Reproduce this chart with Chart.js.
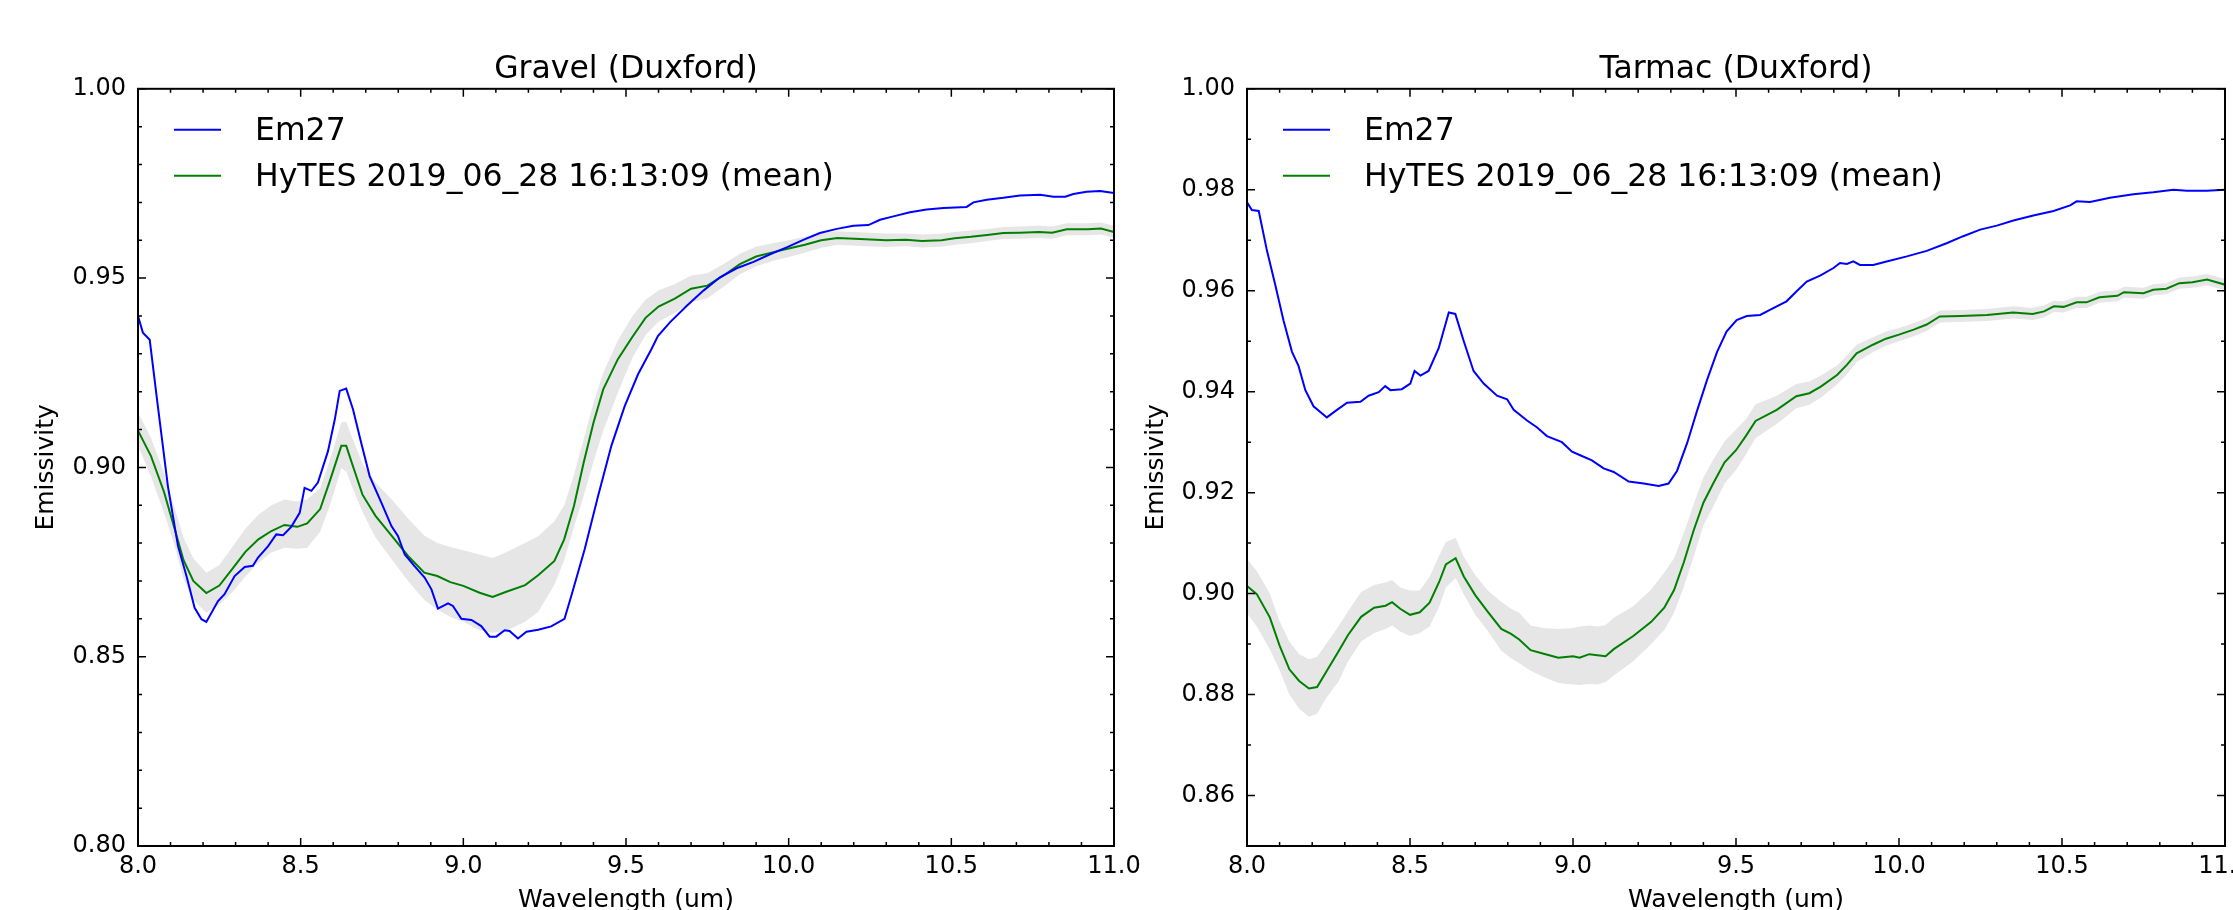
<!DOCTYPE html>
<html lang="en">
<head>
<meta charset="UTF-8">
<title>Emissivity - Gravel and Tarmac (Duxford)</title>
<script src="https://cdn.jsdelivr.net/npm/chart.js"></script>
<style>
  html, body { margin: 0; padding: 0; background: #fff; overflow: hidden; width: 2233px; height: 910px; }
  canvas { position: absolute; top: 0; }
  #gravelChart { left: 0; }
  #tarmacChart { left: 1110px; }
</style>
</head>
<body>
<canvas id="gravelChart" width="1180" height="920"></canvas>
<canvas id="tarmacChart" width="1150" height="920"></canvas>
<script>
const em27Label = 'Em27';
const hytesLabel = 'HyTES 2019_06_28 16:13:09 (mean)';
const xLabel = 'Wavelength (um)';
const yLabel = 'Emissivity';

// ---- Gravel (Duxford) ----
const gravelEm27Wl = [8.000, 8.015, 8.036, 8.061, 8.092, 8.123, 8.149, 8.174, 8.195, 8.210,
  8.246, 8.266, 8.297, 8.328, 8.353, 8.369, 8.400, 8.425, 8.446, 8.471,
  8.497, 8.512, 8.533, 8.553, 8.584, 8.605, 8.620, 8.640, 8.661, 8.686,
  8.712, 8.748, 8.779, 8.799, 8.820, 8.850, 8.881, 8.902, 8.922, 8.953,
  8.968, 8.994, 9.025, 9.055, 9.081, 9.101, 9.127, 9.142, 9.168, 9.194,
  9.230, 9.270, 9.311, 9.332, 9.373, 9.414, 9.455, 9.496, 9.537, 9.578,
  9.598, 9.635, 9.687, 9.738, 9.789, 9.840, 9.892, 9.943, 9.994, 10.045,
  10.096, 10.148, 10.199, 10.245, 10.281, 10.322, 10.373, 10.424, 10.476, 10.547,
  10.568, 10.609, 10.660, 10.711, 10.773, 10.814, 10.850, 10.875, 10.916, 10.957, 11.000];
const gravelEm27 = [0.9400, 0.9356, 0.9337, 0.9162, 0.8950, 0.8792, 0.8713, 0.8629, 0.8599, 0.8592,
  0.8647, 0.8665, 0.8713, 0.8737, 0.8740, 0.8762, 0.8792, 0.8823, 0.8821, 0.8843,
  0.8880, 0.8946, 0.8938, 0.8960, 0.9043, 0.9127, 0.9202, 0.9208, 0.9153, 0.9065,
  0.8977, 0.8907, 0.8845, 0.8819, 0.8770, 0.8739, 0.8709, 0.8678, 0.8627, 0.8641,
  0.8634, 0.8600, 0.8597, 0.8581, 0.8553, 0.8553, 0.8570, 0.8568, 0.8548, 0.8566,
  0.8571, 0.8580, 0.8600, 0.8661, 0.8784, 0.8924, 0.9057, 0.9162, 0.9246, 0.9312,
  0.9347, 0.9383, 0.9427, 0.9467, 0.9502, 0.9526, 0.9543, 0.9563, 0.9581, 0.9601,
  0.9619, 0.9630, 0.9638, 0.9640, 0.9654, 0.9663, 0.9674, 0.9681, 0.9685, 0.9688,
  0.9700, 0.9707, 0.9712, 0.9718, 0.9720, 0.9715, 0.9715, 0.9722, 0.9728, 0.9730, 0.9725];

const gravelHytesWl = [8.00, 8.04, 8.08, 8.11, 8.14, 8.17, 8.21, 8.25, 8.29, 8.33,
  8.37, 8.41, 8.45, 8.49, 8.52, 8.56, 8.59, 8.625, 8.64, 8.66,
  8.69, 8.73, 8.78, 8.83, 8.88, 8.92, 8.96, 9.00, 9.05, 9.09,
  9.13, 9.19, 9.23, 9.28, 9.31, 9.34, 9.37, 9.40, 9.43, 9.475,
  9.52, 9.56, 9.60, 9.65, 9.70, 9.75, 9.80, 9.85, 9.90, 9.95,
  10.00, 10.05, 10.10, 10.15, 10.22, 10.30, 10.36, 10.41, 10.47, 10.51,
  10.56, 10.61, 10.66, 10.71, 10.77, 10.81, 10.855, 10.92, 10.96, 11.00];
const gravelHytesMean = [0.9097, 0.9030, 0.8935, 0.8845, 0.8755, 0.8700, 0.8668, 0.8688, 0.8732, 0.8777,
  0.8810, 0.8832, 0.8848, 0.8843, 0.8852, 0.8890, 0.8965, 0.9057, 0.9057, 0.9005,
  0.8928, 0.8872, 0.8819, 0.8766, 0.8722, 0.8713, 0.8697, 0.8687, 0.8669, 0.8658,
  0.8671, 0.8689, 0.8715, 0.8753, 0.8810, 0.8898, 0.9013, 0.9118, 0.9206, 0.9286,
  0.9345, 0.9395, 0.9425, 0.9446, 0.9472, 0.9480, 0.9507, 0.9537, 0.9557, 0.9568,
  0.9578, 0.9588, 0.9600, 0.9606, 0.9603, 0.9600, 0.9601, 0.9598, 0.9600, 0.9605,
  0.9609, 0.9614, 0.9619, 0.9620, 0.9622, 0.9620, 0.9629, 0.9629, 0.9631, 0.9622];
const gravelHytesUpper = [0.9145, 0.9078, 0.8985, 0.8900, 0.8815, 0.8760, 0.8722, 0.8742, 0.8790, 0.8838,
  0.8875, 0.8900, 0.8915, 0.8910, 0.8915, 0.8945, 0.9020, 0.9119, 0.9120, 0.9075,
  0.9010, 0.8960, 0.8915, 0.8865, 0.8820, 0.8800, 0.8790, 0.8781, 0.8770, 0.8761,
  0.8775, 0.8800, 0.8818, 0.8858, 0.8900, 0.8980, 0.9075, 0.9170, 0.9250, 0.9335,
  0.9400, 0.9443, 0.9468, 0.9484, 0.9507, 0.9513, 0.9537, 0.9564, 0.9583, 0.9592,
  0.9600, 0.9609, 0.9620, 0.9624, 0.9621, 0.9618, 0.9618, 0.9615, 0.9617, 0.9622,
  0.9626, 0.9630, 0.9635, 0.9636, 0.9638, 0.9636, 0.9645, 0.9645, 0.9647, 0.9638];
const gravelHytesLower = [0.9057, 0.8975, 0.8880, 0.8800, 0.8705, 0.8650, 0.8616, 0.8638, 0.8670, 0.8712,
  0.8748, 0.8775, 0.8788, 0.8785, 0.8788, 0.8830, 0.8900, 0.8998, 0.8990, 0.8945,
  0.8882, 0.8815, 0.8757, 0.8700, 0.8650, 0.8625, 0.8605, 0.8592, 0.8570, 0.8563,
  0.8568, 0.8592, 0.8618, 0.8690, 0.8755, 0.8842, 0.8925, 0.9015, 0.9097, 0.9197,
  0.9290, 0.9350, 0.9385, 0.9408, 0.9437, 0.9447, 0.9477, 0.9510, 0.9531, 0.9545,
  0.9556, 0.9567, 0.9580, 0.9588, 0.9585, 0.9582, 0.9584, 0.9581, 0.9583, 0.9588,
  0.9592, 0.9598, 0.9603, 0.9604, 0.9606, 0.9604, 0.9613, 0.9613, 0.9615, 0.9606];

// ---- Tarmac (Duxford) ----
const tarmacEm27Wl = [8.000, 8.015, 8.036, 8.061, 8.087, 8.112, 8.138, 8.158, 8.179, 8.204,
  8.245, 8.276, 8.307, 8.348, 8.373, 8.404, 8.424, 8.440, 8.475, 8.501,
  8.514, 8.532, 8.557, 8.588, 8.619, 8.639, 8.665, 8.695, 8.726, 8.767,
  8.798, 8.818, 8.859, 8.890, 8.920, 8.966, 8.997, 9.022, 9.058, 9.094,
  9.125, 9.171, 9.217, 9.263, 9.293, 9.319, 9.350, 9.380, 9.411, 9.442,
  9.471, 9.502, 9.533, 9.574, 9.604, 9.655, 9.686, 9.717, 9.758, 9.799,
  9.819, 9.840, 9.860, 9.880, 9.921, 9.962, 10.024, 10.085, 10.146, 10.197,
  10.249, 10.300, 10.351, 10.412, 10.474, 10.525, 10.545, 10.586, 10.647, 10.719,
  10.780, 10.842, 10.883, 10.944, 11.000];
const tarmacEm27 = [0.9775, 0.9760, 0.9758, 0.9680, 0.9611, 0.9541, 0.9479, 0.9451, 0.9403, 0.9371,
  0.9349, 0.9364, 0.9378, 0.9380, 0.9392, 0.9399, 0.9411, 0.9403, 0.9405, 0.9416,
  0.9441, 0.9432, 0.9441, 0.9486, 0.9557, 0.9554, 0.9500, 0.9441, 0.9416, 0.9392,
  0.9385, 0.9364, 0.9343, 0.9329, 0.9312, 0.9300, 0.9281, 0.9274, 0.9264, 0.9248,
  0.9241, 0.9222, 0.9218, 0.9213, 0.9218, 0.9243, 0.9298, 0.9361, 0.9423, 0.9479,
  0.9519, 0.9542, 0.9550, 0.9552, 0.9562, 0.9579, 0.9599, 0.9618, 0.9630, 0.9645,
  0.9655, 0.9653, 0.9658, 0.9651, 0.9651, 0.9658, 0.9668, 0.9679, 0.9694, 0.9708,
  0.9721, 0.9729, 0.9739, 0.9749, 0.9758, 0.9769, 0.9777, 0.9776, 0.9784, 0.9791,
  0.9795, 0.9800, 0.9798, 0.9798, 0.9800];

const tarmacHytesWl = [8.00, 8.03, 8.07, 8.10, 8.13, 8.16, 8.19, 8.215, 8.245, 8.28,
  8.31, 8.35, 8.39, 8.425, 8.445, 8.47, 8.50, 8.53, 8.56, 8.59,
  8.61, 8.64, 8.665, 8.70, 8.74, 8.78, 8.81, 8.835, 8.87, 8.91,
  8.955, 9.00, 9.02, 9.05, 9.075, 9.10, 9.125, 9.185, 9.24, 9.28,
  9.31, 9.34, 9.37, 9.40, 9.43, 9.465, 9.50, 9.53, 9.56, 9.625,
  9.685, 9.725, 9.76, 9.81, 9.84, 9.87, 9.92, 9.96, 10.00, 10.045,
  10.085, 10.125, 10.19, 10.27, 10.35, 10.41, 10.445, 10.475, 10.505, 10.545,
  10.575, 10.615, 10.67, 10.69, 10.75, 10.78, 10.82, 10.86, 10.90, 10.945, 11.00];
const tarmacHytesMean = [0.9015, 0.8999, 0.8953, 0.8897, 0.8850, 0.8827, 0.8812, 0.8815, 0.8847, 0.8885,
  0.8918, 0.8954, 0.8972, 0.8976, 0.8983, 0.8970, 0.8958, 0.8963, 0.8982, 0.9024,
  0.9058, 0.9070, 0.9034, 0.8997, 0.8963, 0.8930, 0.8920, 0.8909, 0.8888, 0.8881,
  0.8873, 0.8876, 0.8873, 0.8880, 0.8878, 0.8876, 0.8890, 0.8916, 0.8944, 0.8972,
  0.9007, 0.9062, 0.9125, 0.9180, 0.9218, 0.9260, 0.9284, 0.9312, 0.9342, 0.9364,
  0.9391, 0.9397, 0.9410, 0.9433, 0.9453, 0.9476, 0.9493, 0.9505, 0.9513, 0.9523,
  0.9533, 0.9549, 0.9550, 0.9552, 0.9557, 0.9554, 0.9559, 0.9569, 0.9568, 0.9577,
  0.9577, 0.9587, 0.9590, 0.9597, 0.9595, 0.9602, 0.9604, 0.9615, 0.9617, 0.9622, 0.9612];
const tarmacHytesUpper = [0.9069, 0.9045, 0.9000, 0.8945, 0.8905, 0.8880, 0.8870, 0.8875, 0.8902, 0.8935,
  0.8965, 0.9003, 0.9017, 0.9022, 0.9027, 0.9012, 0.9006, 0.9006, 0.9033, 0.9076,
  0.9102, 0.9110, 0.9073, 0.9037, 0.9005, 0.8984, 0.8970, 0.8962, 0.8937, 0.8932,
  0.8930, 0.8932, 0.8935, 0.8937, 0.8935, 0.8938, 0.8952, 0.8975, 0.9008, 0.9042,
  0.9070, 0.9120, 0.9177, 0.9230, 0.9265, 0.9302, 0.9325, 0.9345, 0.9375, 0.9392,
  0.9415, 0.9420, 0.9432, 0.9452, 0.9472, 0.9493, 0.9508, 0.9519, 0.9526, 0.9536,
  0.9546, 0.9561, 0.9562, 0.9564, 0.9569, 0.9566, 0.9571, 0.9580, 0.9579, 0.9588,
  0.9588, 0.9598, 0.9601, 0.9608, 0.9606, 0.9613, 0.9615, 0.9626, 0.9628, 0.9633, 0.9623];
const tarmacHytesLower = [0.8961, 0.8935, 0.8890, 0.8848, 0.8800, 0.8772, 0.8756, 0.8762, 0.8795, 0.8825,
  0.8866, 0.8905, 0.8922, 0.8930, 0.8937, 0.8925, 0.8916, 0.8922, 0.8935, 0.8975,
  0.9012, 0.9031, 0.8998, 0.8958, 0.8925, 0.8887, 0.8872, 0.8862, 0.8847, 0.8835,
  0.8823, 0.8820, 0.8819, 0.8821, 0.8820, 0.8825, 0.8838, 0.8866, 0.8900, 0.8928,
  0.8962, 0.9013, 0.9073, 0.9135, 0.9172, 0.9218, 0.9245, 0.9275, 0.9308, 0.9336,
  0.9367, 0.9374, 0.9388, 0.9414, 0.9434, 0.9459, 0.9478, 0.9491, 0.9500, 0.9510,
  0.9520, 0.9537, 0.9538, 0.9540, 0.9545, 0.9542, 0.9547, 0.9558, 0.9557, 0.9566,
  0.9566, 0.9576, 0.9579, 0.9586, 0.9584, 0.9591, 0.9593, 0.9604, 0.9606, 0.9611, 0.9601];

Chart.defaults.font.family = "'DejaVu Sans', sans-serif";
Chart.defaults.color = '#000';

const toPoints = (xs, ys) => xs.map((x, i) => ({x: x, y: ys[i]}));
const onStep = (v, step) => Math.abs(v / step - Math.round(v / step)) < 1e-6;

// matplotlib-like frame with inward ticks on all four sides
const axesFramePlugin = {
  id: 'axesFrame',
  afterDatasetsDraw(chart) {
    const {ctx, chartArea: a, scales} = chart;
    ctx.save();
    ctx.strokeStyle = '#000';
    ctx.lineWidth = 1.5;
    ctx.beginPath();
    scales.x.ticks.forEach(t => {
      const px = scales.x.getPixelForValue(t.value);
      const len = t.label ? 8 : 4;
      ctx.moveTo(px, a.bottom); ctx.lineTo(px, a.bottom - len);
      ctx.moveTo(px, a.top); ctx.lineTo(px, a.top + len);
    });
    scales.y.ticks.forEach(t => {
      const py = scales.y.getPixelForValue(t.value);
      const len = t.label ? 8 : 4;
      ctx.moveTo(a.left, py); ctx.lineTo(a.left + len, py);
      ctx.moveTo(a.right, py); ctx.lineTo(a.right - len, py);
    });
    ctx.stroke();
    ctx.lineWidth = 2;
    ctx.strokeRect(a.left, a.top, a.right - a.left, a.bottom - a.top);
    ctx.restore();
  }
};

// legend drawn inside the axes, upper left, no frame
const innerLegendPlugin = {
  id: 'innerLegend',
  afterDatasetsDraw(chart) {
    const {ctx, chartArea: a} = chart;
    const items = chart.data.datasets.filter(d => d.label);
    ctx.save();
    ctx.font = "31.5px 'DejaVu Sans'";
    ctx.textBaseline = 'middle';
    items.forEach((d, i) => {
      const y = a.top + 41 + i * 46;
      ctx.strokeStyle = d.borderColor;
      ctx.lineWidth = 2;
      ctx.beginPath();
      ctx.moveTo(a.left + 36, y);
      ctx.lineTo(a.left + 83, y);
      ctx.stroke();
      ctx.fillStyle = '#000';
      ctx.fillText(d.label, a.left + 117, y + 2);
    });
    ctx.restore();
  }
};

function makeChart(canvasId, title, em27Wl, em27, hytesWl, mean, upper, lower,
                   yMin, yMax, yLabelStep, yAxisWidth, rightPad) {
  return new Chart(document.getElementById(canvasId), {
    type: 'line',
    data: {
      datasets: [
        {label: em27Label, data: toPoints(em27Wl, em27), borderColor: '#0000ff',
         borderWidth: 2, pointRadius: 0, fill: false, tension: 0},
        {label: hytesLabel, data: toPoints(hytesWl, mean), borderColor: '#008000',
         borderWidth: 2, pointRadius: 0, fill: false, tension: 0},
        {data: toPoints(hytesWl, upper), borderColor: 'rgba(0,0,0,0)', borderWidth: 0,
         pointRadius: 0, backgroundColor: '#e6e6e6', fill: '+1', tension: 0},
        {data: toPoints(hytesWl, lower), borderColor: 'rgba(0,0,0,0)', borderWidth: 0,
         pointRadius: 0, fill: false, tension: 0}
      ]
    },
    options: {
      responsive: false,
      animation: false,
      events: [],
      layout: {padding: {left: 0, right: rightPad, top: 0, bottom: 0}},
      scales: {
        x: {
          type: 'linear', min: 8, max: 11,
          grid: {display: false, drawTicks: false},
          border: {display: false},
          ticks: {
            stepSize: 0.1, autoSkip: false, maxRotation: 0, padding: 6,
            font: {size: 24}, color: '#000',
            callback: v => onStep(v, 0.5) ? v.toFixed(1) : ''
          },
          title: {display: true, text: xLabel, font: {size: 25}, color: '#000',
                  padding: {top: 0, bottom: 5}},
          afterFit: s => { s.height = 74; }
        },
        y: {
          type: 'linear', min: yMin, max: yMax,
          grid: {display: false, drawTicks: false},
          border: {display: false},
          ticks: {
            stepSize: 0.01, autoSkip: false, padding: 12,
            font: {size: 24}, color: '#000',
            callback: v => onStep(v, yLabelStep) ? v.toFixed(2) : ''
          },
          title: {display: true, text: yLabel, font: {size: 25}, color: '#000',
                  padding: {top: 31, bottom: 0}},
          afterFit: s => { s.width = yAxisWidth; }
        }
      },
      plugins: {
        legend: {display: false},
        tooltip: {enabled: false},
        title: {display: true, text: title, fullSize: false, font: {size: 31.5, weight: 'normal'},
                color: '#000', padding: {top: 51, bottom: 0}}
      }
    },
    plugins: [axesFramePlugin, innerLegendPlugin]
  });
}

makeChart('gravelChart', 'Gravel (Duxford)', gravelEm27Wl, gravelEm27,
  gravelHytesWl, gravelHytesMean, gravelHytesUpper, gravelHytesLower,
  0.80, 1.00, 0.05, 138, 66);

makeChart('tarmacChart', 'Tarmac (Duxford)', tarmacEm27Wl, tarmacEm27,
  tarmacHytesWl, tarmacHytesMean, tarmacHytesUpper, tarmacHytesLower,
  0.85, 1.00, 0.02, 137, 35);
</script>
</body>
</html>
